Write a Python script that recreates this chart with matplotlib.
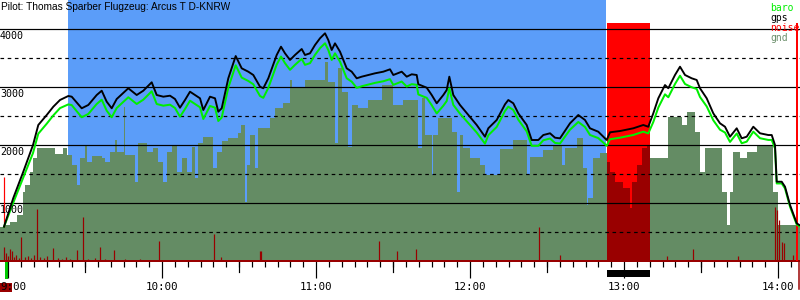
import numpy as np
import matplotlib
matplotlib.use("Agg")
import matplotlib.pyplot as plt
from matplotlib.patches import Rectangle

# ---------------- data (time = minutes after 9:00, altitude in m) ----------------
title = "Pilot: Thomas Sparber Flugzeug: Arcus T D-KNRW"

gps_t = [-1.56, 2.06, 5.96, 9.74, 11.8, 15.08, 17.65, 20.26, 23.49, 24.82, 28.71, 31.29, 34.56, 36.51,
         38.45, 40.40, 42.35, 46.87, 50.14, 52.71, 55.99, 57.93, 60.51, 63.12, 65.06, 67.01, 68.96,
         70.91, 72.86, 74.81, 76.09, 78.70, 80.65, 81.93, 83.26, 85.83, 88.71, 91.05, 93.62, 95.57,
         98.18, 99.47, 101.42, 104.69, 106.36, 107.92, 109.87, 111.82, 114.43, 115.71, 117.66, 119.61,
         121.56, 123.51, 124.79, 126.12, 127.40, 129.35, 131.96, 133.91, 135.86, 137.81, 142.99,
         146.22, 148.83, 150.12, 153.39, 155.34, 157.29, 159.23, 159.86, 163.13, 165.08, 167.03,
         169.60, 170.92, 171.94, 173.49, 176.10, 179.34, 182.61, 185.84, 187.13, 190.40, 193.64,
         194.92, 196.87, 198.82, 202.09, 204.04, 206.61, 208.56, 211.17, 213.12, 215.06, 218.96,
         222.19, 224.80, 226.75, 229.98, 232.59, 233.25, 234.54, 238.44, 243.62, 247.52, 249.46,
         251.41, 253.36, 255.97, 257.26, 259.87, 261.82, 263.77, 266.38, 268.32, 269.61, 272.22,
         274.79, 277.40, 279.35, 281.30, 283.91, 285.86, 287.81, 290.38, 292.99, 296.22, 297.55,
         298.83, 299.49, 301.44, 302.73, 304.68, 307.29, 308.30]

gps_alt = [591, 1086, 1540, 2000, 2345, 2517, 2660, 2776, 2845, 2833, 2633, 2690, 2862, 2936,
           2747, 2633, 2793, 2978, 2862, 2936, 3081, 2862, 2833, 2850, 2793, 2643, 2776,
           2919, 2862, 2805, 2603, 2833, 2805, 2574, 2633, 3150, 3534, 3322, 3264, 3207,
           3005, 2978, 3150, 3552, 3695, 3581, 3466, 3552, 3655, 3552, 3581, 3724,
           3840, 3926, 3810, 3638, 3753, 3609, 3322, 3264, 3150, 3178, 3236,
           3264, 3305, 3207, 3264, 3178, 3219, 3207, 3047, 2988, 2862, 2719,
           2862, 2948, 3178, 2862, 2690, 2517, 2345, 2143, 2288, 2431, 2702,
           2776, 2719, 2546, 2345, 2086, 2086, 2172, 2202, 2126, 2115, 2374,
           2517, 2431, 2288, 2229, 2115, 2086, 2219, 2241, 2288, 2345, 2315,
           2546, 2805, 3034, 2978, 3207, 3350, 3207, 3150, 3121, 2978, 2805,
           2546, 2374, 2315, 2143, 2288, 2115, 2143, 2315, 2202, 2172, 2172,
           2000, 1367, 1367, 1281, 966, 650, 621]

baro_alt = [591, 1006, 1440, 1862, 2195, 2367, 2510, 2636, 2700, 2688, 2478, 2535, 2707, 2781,
            2592, 2478, 2638, 2823, 2707, 2781, 2926, 2707, 2678, 2695, 2638, 2488, 2621,
            2764, 2707, 2650, 2448, 2673, 2645, 2414, 2473, 2990, 3374, 3162, 3104, 3047,
            2845, 2813, 2985, 3387, 3525, 3411, 3296, 3382, 3485, 3382, 3411, 3554,
            3670, 3754, 3638, 3466, 3581, 3437, 3150, 3092, 2985, 3013, 3071,
            3099, 3135, 3037, 3094, 3008, 3049, 3037, 2872, 2813, 2687, 2544,
            2677, 2758, 2978, 2692, 2540, 2377, 2215, 2023, 2168, 2311, 2587,
            2661, 2604, 2436, 2235, 1986, 1986, 2082, 2112, 2036, 2025, 2264,
            2397, 2311, 2173, 2119, 2015, 1986, 2099, 2126, 2173, 2230, 2200,
            2396, 2645, 2874, 2823, 3052, 3195, 3052, 2995, 2966, 2828, 2665,
            2426, 2264, 2215, 2053, 2198, 2030, 2058, 2230, 2117, 2087, 2087,
            1940, 1337, 1337, 1251, 936, 630, 601]

gnd_t = [-3.12, -1.56, 0.78, 3.51, 5.84, 6.62, 8.57, 9.74, 11.30, 18.31, 21.43, 22.99, 24.94, 26.88,
         28.05, 30.00, 30.78, 32.73, 36.62, 37.79, 39.74, 41.69, 42.47, 45.19, 45.58, 49.48, 50.65,
         54.16, 56.49, 58.44, 60.39, 61.95, 63.90, 65.84, 67.79, 69.74, 71.69, 72.86, 74.03, 75.97,
         79.87, 81.43, 83.38, 85.71, 89.61, 90.78, 92.34, 93.12, 94.29, 96.23, 97.40, 102.08, 104.03,
         107.14, 109.87, 110.65, 115.71, 123.51, 124.68, 127.40, 128.57, 130.13, 132.47, 134.03,
         136.36, 140.26, 145.71, 148.83, 150.00, 153.90, 159.74, 161.30, 162.47, 165.19, 165.58,
         167.53, 172.99, 174.94, 176.10, 177.27, 180.00, 183.90, 185.84, 191.69, 196.75, 202.21,
         203.38, 208.44, 212.34, 215.84, 217.01, 221.69, 224.03, 225.58, 225.97, 227.92, 230.65,
         233.38, 234.55, 236.49, 239.61, 242.34, 243.12, 245.06, 247.01, 248.96, 250.13, 257.14,
         262.60, 264.55, 267.66, 269.61, 271.56, 278.18, 280.13, 281.30, 282.47, 285.19, 287.92,
         291.82, 298.05, 300.00, 308.57]

gnd_alt = [591, 621, 672, 793, 1195, 1310, 1540, 1776, 1943, 1840, 1948, 1828, 1655, 1310,
           1776, 2000, 1712, 1810, 1776, 1707, 1884, 2086, 1884, 2660, 1828, 1367, 2034,
           1884, 1948, 1712, 1367, 1884, 2000, 1540, 1776, 1540, 1971, 1431, 2029, 2143,
           1603, 1884, 2069, 2115, 2207, 2345, 1022, 1655, 2172, 1603, 2288, 2460, 2633,
           2719, 3121, 3005, 3121, 3436, 3091, 2034, 3322, 2919, 1971, 2690,
           2633, 2776, 3034, 3034, 2690, 2776, 1948, 2810, 2172, 1483, 2172,
           2460, 2229, 1195, 2172, 1943, 1771, 1655, 1483, 1926, 2086, 1483,
           1788, 1914, 2000, 1655, 1943, 2115, 1603, 966, 1086, 1771, 1857,
           1712, 1540, 1367, 1253, 914, 1367, 1655, 1943, 2000, 1771, 2488,
           2345, 2574, 2229, 1540, 1948, 1195, 621, 1195, 1884, 1771, 1884,
           2000, 1195, 621, 621]

noise_t = [-1.56, -0.78, 0.0, 0.78, 1.68, 2.34, 3.12, 4.29, 5.18, 6.62, 7.79, 8.96, 10.13, 11.42,
           12.47, 14.03, 15.19, 17.42, 19.48, 21.04, 22.60, 24.16, 26.77, 29.34, 31.17, 33.90,
           35.84, 37.79, 41.30, 45.58, 51.43, 58.95, 80.26, 82.87, 98.18, 98.6, 144.66, 151.68,
           158.96, 206.88, 215.18, 256.63, 267.0, 284.42, 298.83, 299.61, 300.39, 301.56, 302.34,
           305.84]
noise_h = [247, 138, 86, 207, 172, 69, 103, 52, 419, 69, 86, 52, 103, 891,
           69, 52, 86, 224, 52, 34, 69, 34, 190, 753, 34, 52,
           247, 34, 190, 34, 34, 345, 460, 74, 172, 172, 345, 172,
           207, 591, 103, 91, 207, 86, 936, 879, 707, 333, 310,
           103]

task_start, task_end = 23.4, 232.9          # blue (task) window
engine_start, engine_end = 233.38, 250.13   # engine run (noise)
engine_top = 4110
noise_start_t, noise_start_lo, noise_start_hi = -1.56, 591, 1448
noise_end_t, noise_end_hi = 307.4, 4100

hours = [0, 60, 120, 180, 240, 300]
hour_labels = ["9:00", "10:00", "11:00", "12:00", "13:00", "14:00"]
y_levels = [1000, 2000, 3000, 4000]
y_dashed = [500, 1500, 2500, 3500]
legend_items = [("baro", "#00ee00"), ("gps", "#000000"), ("noise", "#ff0000"), ("gnd", "#6b8f6b")]

# ---------------- figure ----------------
W, H = 800, 300
fig = plt.figure(figsize=(8, 3), dpi=100)
ax_h = 261
ax = fig.add_axes([0, (H - ax_h) / H, 1, ax_h / H])
ax.set_xlim(-3.12, 308.57)
ax.set_ylim(0, 4500)
for s in ax.spines.values():
    s.set_visible(False)
ax.set_yticks([])

BLUE = "#5b9df9"
GND = "#648c64"
DRED = "#990000"
px = 0.72  # one pixel in points

ax.axvspan(task_start, task_end, color=BLUE, zorder=0, lw=0)
ax.fill_between([engine_start, engine_end], [0, 0], [engine_top, engine_top], color="#ff0000", zorder=1, lw=0)

gt = np.array(gnd_t)
ga = np.array(gnd_alt)
ax.fill_between(gt, 0, ga, step="post", color=GND, lw=0, zorder=2)
m = (gt >= engine_start) & (gt <= engine_end)
ax.fill_between(gt, 0, ga, where=m, step="post", color=DRED, lw=0, zorder=2.1)

for lv in y_levels:
    ax.axhline(lv, color="black", lw=1.2 * px, zorder=3)
for lv in y_dashed:
    ax.axhline(lv, color="black", lw=1.2 * px, ls=(0, (3, 3)), zorder=3)

ax.vlines(noise_t, 0, noise_h, color=DRED, lw=1.2 * px, zorder=3.5)
ax.axhline(0, color=DRED, lw=2 * px, zorder=3.6, clip_on=False)
ax.vlines([noise_start_t], noise_start_lo, noise_start_hi, color="#ff0000", lw=1.2 * px, zorder=4)
ax.vlines([noise_end_t], 0, noise_end_hi, color="#ff0000", lw=2 * px, zorder=4)

ax.plot(gps_t, baro_alt, color="#00ee00", lw=2.0 * px, zorder=5)
ax.plot(gps_t, gps_alt, color="black", lw=1.9 * px, zorder=6)

# y labels
for lv in y_levels:
    ax.annotate(str(lv), xy=(0, lv), xycoords=("axes fraction", "data"), xytext=(0, -2),
                textcoords="offset pixels", ha="left", va="top", fontsize=7.2,
                family="DejaVu Sans Mono", zorder=7)

# x ticks
ax.set_xticks(hours)
ax.set_xticklabels([])
ax.set_xticks(np.arange(0, 310, 5), minor=True)
ax.tick_params(axis="x", which="major", length=17 * px, width=1.2 * px, color="black")
ax.tick_params(axis="x", which="minor", length=6 * px, width=1.2 * px, color="black")
tr = ax.get_xaxis_transform()
for hh in [30, 90, 150, 210, 270]:
    ax.plot([hh, hh], [0, -11 / ax_h], transform=tr, color="black", lw=1.2 * px, clip_on=False)

# bottom markers
ax.add_patch(Rectangle((engine_start, -16 / ax_h), engine_end - engine_start, 7 / ax_h,
                       transform=tr, color="black", clip_on=False, lw=0))
ax.add_patch(Rectangle((-1.17, -18 / ax_h), 1.17, 17 / ax_h, transform=tr, color="#00cc00",
                       clip_on=False, lw=0))
ax.add_patch(Rectangle((-3.12, -31 / ax_h), 4.7, 9 / ax_h, transform=tr, color=DRED,
                       clip_on=False, lw=0))
ax.plot([308.2, 308.2], [0, -28 / ax_h], transform=tr, color=DRED, lw=1.5 * px, clip_on=False)

for hh, lab in zip(hours, hour_labels):
    if hh == 0:
        ax.text(-3.12, -26 / ax_h, lab, transform=tr, ha="left", va="center", fontsize=7.8,
                family="DejaVu Sans Mono")
    else:
        ax.text(hh, -26 / ax_h, lab, transform=tr, ha="center", va="center", fontsize=7.8,
                family="DejaVu Sans Mono")

# title
fig.text(1 / W, 1 - 2 / H, title, ha="left", va="top", fontsize=7.3, family="Liberation Sans")

# legend
for i, (lab, col) in enumerate(legend_items):
    fig.text(770 / W, 1 - (8 + 10 * i) / H, lab, ha="left", va="center", fontsize=7,
             family="DejaVu Sans Mono", color=col, zorder=10)

fig.savefig("out.png", dpi=100)
